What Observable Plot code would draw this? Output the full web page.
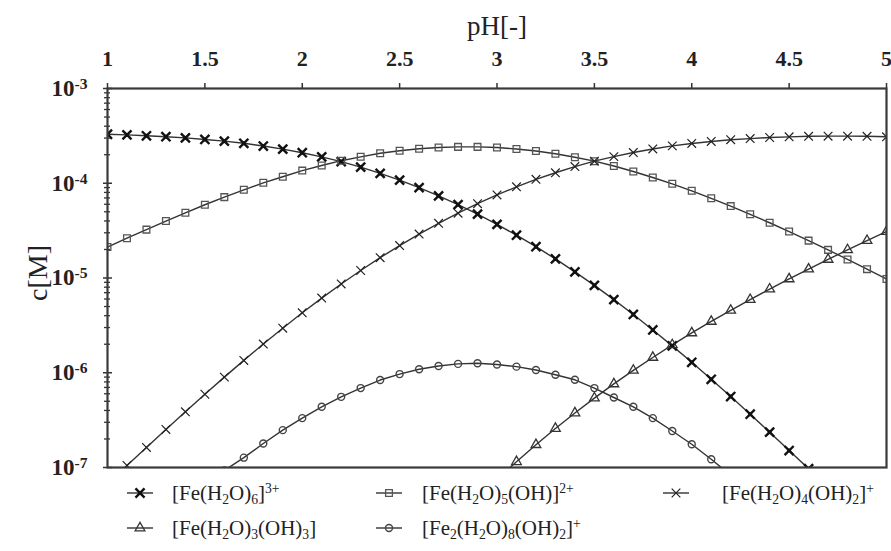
<!DOCTYPE html>
<html><head><meta charset="utf-8">
<script src="https://cdn.jsdelivr.net/npm/d3@7"></script>
<script src="https://cdn.jsdelivr.net/npm/@observablehq/plot@0.6"></script>
<style>
body{margin:0;background:#fff;font-family:"Liberation Serif","Times New Roman",serif;}
#wrap{position:relative;width:891px;height:551px;overflow:hidden;}
.sw{position:absolute;transform:translate(-50%,-50%);}
.lt{position:absolute;font-size:21px;color:#222;white-space:nowrap;line-height:1;transform:translateY(-50%);}
.lt sub{font-size:0.65em;vertical-align:baseline;position:relative;top:0.3em;}
.lt sup{font-size:0.65em;vertical-align:baseline;position:relative;top:-0.5em;}
</style></head><body><div id="wrap"><div id="chart"></div></div>
<script>
// pH grid (markers every 0.1)
const pH = [1.0,1.1,1.2,1.3,1.4,1.5,1.6,1.7,1.8,1.9,2.0,2.1,2.2,2.3,2.4,2.5,2.6,2.7,2.8,2.9,3.0,
            3.1,3.2,3.3,3.4,3.5,3.6,3.7,3.8,3.9,4.0,4.1,4.2,4.3,4.4,4.5,4.6,4.7,4.8,4.9,5.0];
// concentrations [M] (null = off chart)
const fe3 = [3.29e-4,3.24e-4,3.17e-4,3.10e-4,3.01e-4,2.90e-4,2.78e-4,2.64e-4,2.47e-4,2.29e-4,2.10e-4,
             1.90e-4,1.69e-4,1.48e-4,1.27e-4,1.08e-4,9.0e-5,7.36e-5,5.94e-5,4.72e-5,3.68e-5,
             2.83e-5,2.14e-5,1.59e-5,1.16e-5,8.36e-6,5.92e-6,4.12e-6,2.83e-6,1.92e-6,1.29e-6,
             8.53e-7,5.61e-7,3.65e-7,2.36e-7,1.51e-7,9.7e-8,6.1e-8,3.9e-8,2.4e-8,1.5e-8];
const feOH = [2.12e-5,2.63e-5,3.24e-5,3.99e-5,4.88e-5,5.93e-5,7.14e-5,8.53e-5,1.01e-4,1.17e-4,1.36e-4,
              1.54e-4,1.73e-4,1.90e-4,2.07e-4,2.20e-4,2.31e-4,2.38e-4,2.42e-4,2.42e-4,2.38e-4,
              2.30e-4,2.19e-4,2.05e-4,1.88e-4,1.71e-4,1.52e-4,1.33e-4,1.15e-4,9.86e-5,8.32e-5,
              6.93e-5,5.74e-5,4.70e-5,3.83e-5,3.09e-5,2.48e-5,1.98e-5,1.57e-5,1.24e-5,9.77e-6];
const feOH2 = [6.7e-8,1.05e-7,1.63e-7,2.52e-7,3.87e-7,5.93e-7,8.99e-7,1.35e-6,2.01e-6,2.95e-6,4.29e-6,
               6.14e-6,8.65e-6,1.20e-5,1.64e-5,2.20e-5,2.91e-5,3.78e-5,4.83e-5,6.08e-5,7.52e-5,
               9.16e-5,1.10e-4,1.29e-4,1.50e-4,1.71e-4,1.91e-4,2.11e-4,2.30e-4,2.48e-4,2.63e-4,
               2.76e-4,2.88e-4,2.96e-4,3.04e-4,3.09e-4,3.13e-4,3.14e-4,3.14e-4,3.13e-4,3.09e-4];
const feOH3 = [null,null,null,null,null,null,null,null,null,null,null,
               null,null,null,null,null,null,null,3.0e-8,4.8e-8,7.5e-8,
               1.15e-7,1.74e-7,2.58e-7,3.76e-7,5.40e-7,7.62e-7,1.06e-6,1.45e-6,1.97e-6,2.63e-6,
               3.48e-6,4.56e-6,5.92e-6,7.64e-6,9.77e-6,1.24e-5,1.57e-5,1.98e-5,2.48e-5,3.09e-5];
const dimer = [null,null,null,null,null,6.0e-8,9.3e-8,1.27e-7,1.79e-7,2.48e-7,3.32e-7,
               4.37e-7,5.57e-7,6.89e-7,8.38e-7,9.68e-7,1.09e-6,1.18e-6,1.24e-6,1.26e-6,1.22e-6,
               1.16e-6,1.07e-6,9.53e-7,8.43e-7,6.89e-7,5.48e-7,4.37e-7,3.32e-7,2.43e-7,1.76e-7,
               1.22e-7,8.3e-8,5.5e-8,null,null,null,null,null,null,null];

const xTicks = [1,1.5,2,2.5,3,3.5,4,4.5,5];
const yMajor = [1e-7,1e-6,1e-5,1e-4,1e-3];
const yExp = ["-7","-6","-5","-4","-3"];
const yMinor = [];
for (let e = -7; e < -3; e++) for (let m = 2; m <= 9; m++) yMinor.push(m * Math.pow(10, e));

const series = [
  {key:"fe3",   values:fe3,   label:'[Fe(H<sub>2</sub>O)<sub>6</sub>]<sup>3+</sup>'},
  {key:"feOH",  values:feOH,  label:'[Fe(H<sub>2</sub>O)<sub>5</sub>(OH)]<sup>2+</sup>'},
  {key:"feOH2", values:feOH2, label:'[Fe(H<sub>2</sub>O)<sub>4</sub>(OH)<sub>2</sub>]<sup>+</sup>'},
  {key:"feOH3", values:feOH3, label:'[Fe(H<sub>2</sub>O)<sub>3</sub>(OH)<sub>3</sub>]'},
  {key:"dimer", values:dimer, label:'[Fe<sub>2</sub>(H<sub>2</sub>O)<sub>8</sub>(OH)<sub>2</sub>]<sup>+</sup>'}
];
const rows = [];
for (const s of series) s.values.forEach((v, i) => { if (v != null) rows.push({series: s.key, pH: pH[i], c: v}); });
const of = k => rows.filter(d => d.series === k);

const W = 891, H = 482, mL = 107, mR = 5, mT = 88, mB = 15;
const frameW = W - mL - mR, frameH = H - mT - mB;
const lineColor = "#333";
const chart = Plot.plot({
  width: W, height: H,
  marginLeft: mL, marginRight: mR, marginTop: mT, marginBottom: mB,
  style: {fontFamily: "Liberation Serif, Times New Roman, serif", fontSize: "22px", color: "#222", background: "white", overflow: "visible"},
  x: {domain: [1, 5]},
  y: {type: "log", domain: [1e-7, 1e-3]},
  marks: [
    Plot.line(rows, {x: "pH", y: "c", z: "series", stroke: lineColor, strokeWidth: 1.4, clip: true}),
    Plot.dot(of("fe3"), {x: "pH", y: "c", symbol: "times", r: 4.2, stroke: "#111", strokeWidth: 2.4, clip: true}),
    Plot.dot(of("fe3"), {x: "pH", y: "c", symbol: "square", r: 2.2, fill: "#111", stroke: "none", clip: true}),
    Plot.dot(of("feOH"), {x: "pH", y: "c", symbol: "square", r: 3.8, fill: "none", stroke: "#555", strokeWidth: 1.3, clip: true}),
    Plot.dot(of("feOH2"), {x: "pH", y: "c", symbol: "times", r: 4, stroke: "#222", strokeWidth: 1.2, clip: true}),
    Plot.dot(of("feOH3"), {x: "pH", y: "c", symbol: "triangle", r: 3.6, fill: "none", stroke: "#333", strokeWidth: 1.3, clip: true}),
    Plot.dot(of("dimer"), {x: "pH", y: "c", symbol: "circle", r: 3.5, fill: "none", stroke: "#444", strokeWidth: 1.4, clip: true}),
    // axis ticks: short rules at the frame edges
    Plot.ruleY(yMinor, {y: d => d, insetLeft: -3, insetRight: frameW - 3, stroke: "#333", strokeWidth: 1.3}),
    Plot.ruleY(yMajor, {y: d => d, insetLeft: -4, insetRight: frameW - 5, stroke: "#333", strokeWidth: 1.5}),
    Plot.ruleX(xTicks, {x: d => d, insetTop: -5, insetBottom: frameH, stroke: "#333", strokeWidth: 1.5}),
    Plot.frame({stroke: "#3a3a3a", strokeWidth: 2.2}),
    Plot.axisX({anchor: "top", ticks: xTicks, tickSize: 0, tickPadding: 23, tickFormat: d => String(d),
      fontWeight: "bold", fontSize: 22, label: null}),
    Plot.axisY({anchor: "left", ticks: yMajor, tickSize: 0, tickPadding: 20,
      tickFormat: d => "10" + yExp[yMajor.indexOf(d)], fontWeight: "bold", fontSize: 23, label: null}),
    Plot.text(["pH[-]"], {frameAnchor: "top", dy: -62, lineAnchor: "middle", fontSize: 27, fill: "#222"}),
    Plot.text(["c[M]"], {frameAnchor: "left", dx: -69, dy: -5, rotate: -90, textAnchor: "middle", lineAnchor: "middle", fontSize: 28, fill: "#222"})
  ]
});
document.getElementById("chart").appendChild(chart);

// superscript exponents on y tick labels
d3.select(chart).selectAll('g[aria-label="y-axis tick label"] text').each(function() {
  const t = this.textContent;
  if (!t.startsWith("10")) return;
  const exp = t.slice(2);
  const sel = d3.select(this);
  sel.text(null);
  sel.append("tspan").text("10");
  sel.append("tspan").attr("dy", "-0.45em").attr("font-size", "0.68em").text(exp);
});

// legend
const legendDefs = [
  {s: series[0], sx: 140, tx: 172, y: 493, sym: "times", r: 4.2, stroke: "#111", sw: 2.4, fill: "none", inner: true},
  {s: series[1], sx: 389, tx: 422, y: 493, sym: "square", r: 3.8, stroke: "#555", sw: 1.3, fill: "none"},
  {s: series[2], sx: 676, tx: 722, y: 493, sym: "times", r: 4, stroke: "#222", sw: 1.2, fill: "none"},
  {s: series[3], sx: 140, tx: 172, y: 528, sym: "triangle", r: 3.6, stroke: "#333", sw: 1.3, fill: "none"},
  {s: series[4], sx: 389, tx: 422, y: 528, sym: "circle", r: 3.5, stroke: "#444", sw: 1.4, fill: "none"}
];
const symMap = {times: d3.symbolTimes || d3.symbolX, square: d3.symbolSquare, triangle: d3.symbolTriangle, circle: d3.symbolCircle};
const wrap = d3.select("#wrap");
for (const L of legendDefs) {
  const svg = wrap.append("svg").attr("class", "sw").attr("width", 34).attr("height", 16)
    .style("left", L.sx + "px").style("top", L.y + "px");
  svg.append("line").attr("x1", 4).attr("x2", 30).attr("y1", 8).attr("y2", 8).attr("stroke", lineColor).attr("stroke-width", 1.4);
  svg.append("path").attr("transform", "translate(17,8)")
    .attr("d", d3.symbol(symMap[L.sym], Math.PI * L.r * L.r)())
    .attr("fill", L.fill).attr("stroke", L.stroke).attr("stroke-width", L.sw);
  if (L.inner) svg.append("path").attr("transform", "translate(17,8)")
    .attr("d", d3.symbol(d3.symbolSquare, Math.PI * 2.2 * 2.2)()).attr("fill", "#111");
  wrap.append("div").attr("class", "lt").style("left", L.tx + "px").style("top", L.y + "px").html(L.s.label);
}
</script></body></html>
